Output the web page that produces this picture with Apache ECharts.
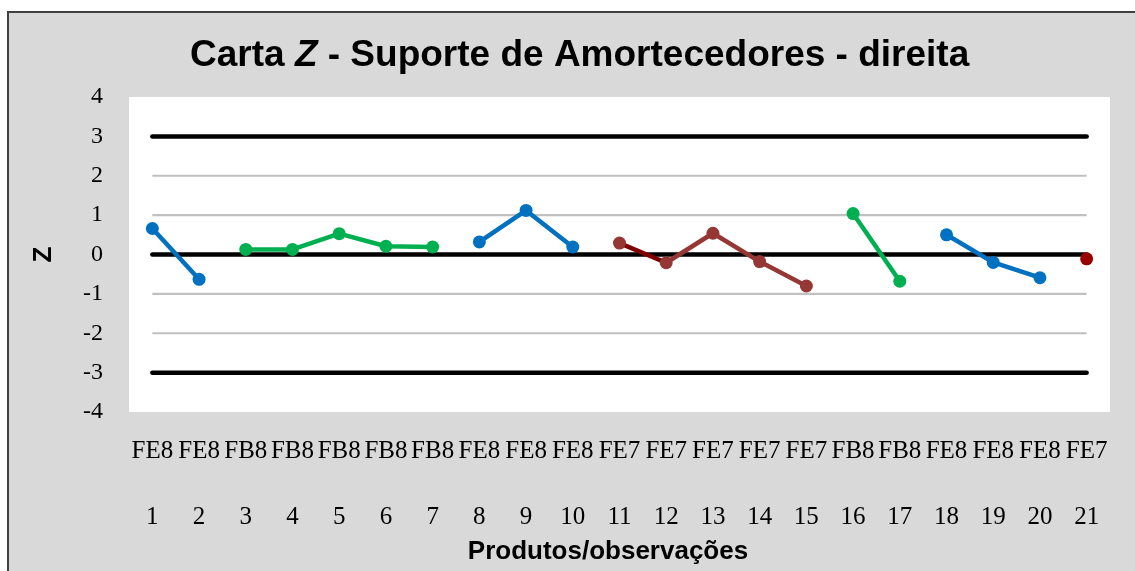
<!DOCTYPE html>
<html>
<head>
<meta charset="utf-8">
<script src="https://cdn.jsdelivr.net/npm/echarts@6/dist/echarts.min.js"></script>
<style>
  html, body { margin: 0; padding: 0; background: #ffffff; }
  #chart { width: 1135px; height: 571px; }
</style>
</head>
<body>
<div id="chart"></div>
<script>
// Product code of each observation and its observation number
const productCodes = ['FE8','FE8','FB8','FB8','FB8','FB8','FB8','FE8','FE8','FE8',
                      'FE7','FE7','FE7','FE7','FE7','FB8','FB8','FE8','FE8','FE8','FE7'];
const observations = [1,2,3,4,5,6,7,8,9,10,11,12,13,14,15,16,17,18,19,20,21];

// Standardised Z values per observation
const zValues = [0.66, -0.63, 0.13, 0.13, 0.53, 0.21, 0.19, 0.32, 1.12, 0.19,
                 0.29, -0.21, 0.54, -0.18, -0.80, 1.04, -0.68, 0.50, -0.20, -0.59, -0.11];

// Control limits (black) and guide levels (grey)
const controlLimits = [3, 0, -3];
const guideLevels = [2, 1, -1, -2];

// Y axis range
const yMin = -4, yMax = 4, yStep = 1;

// Consecutive runs of the same product, drawn as separate polylines (first/last observation, 1-based)
const runs = [
  { from: 1,  to: 2,  color: '#0070c0' },
  { from: 3,  to: 7,  color: '#00b050' },
  { from: 8,  to: 10, color: '#0070c0' },
  { from: 12, to: 15, color: '#953735' },
  { from: 16, to: 17, color: '#00b050' },
  { from: 18, to: 20, color: '#0070c0' },
  { from: 21, to: 21, color: '#990000' }
];

const categories = productCodes.map((c, i) => c + '\n\n' + observations[i]);
const lastIdx = categories.length - 1;

const series = [];

guideLevels.forEach(v => series.push({
  type: 'line', data: [[0, v], [lastIdx, v]], symbol: 'none', silent: true, z: 1,
  lineStyle: { color: '#c0c0c0', width: 2.2, cap: 'butt' }
}));

runs.forEach(r => {
  const data = zValues.map((v, i) => (i + 1 >= r.from && i + 1 <= r.to) ? v : null);
  series.push({
    type: 'line', data, symbol: 'circle', symbolSize: 13, showAllSymbol: true,
    connectNulls: false, z: 3,
    lineStyle: { color: r.color, width: 4.5 },
    itemStyle: { color: r.color }
  });
});

// Link between observations 11 and 12 (darker red), marker only on 11
series.push({
  type: 'line', z: 3, symbol: 'circle', symbolSize: 13, showAllSymbol: true,
  data: zValues.map((v, i) => {
    if (i === 10) return { value: v, itemStyle: { color: '#953735' } };
    if (i === 11) return { value: v, symbol: 'none' };
    return null;
  }),
  lineStyle: { color: '#7f0000', width: 4.5 },
  itemStyle: { color: '#953735' }
});

controlLimits.forEach(v => series.push({
  type: 'line', data: [[0, v], [lastIdx, v]], symbol: 'none', silent: true, z: 2,
  lineStyle: { color: '#000000', width: 4.5, cap: 'round' }
}));

const chart = echarts.init(document.getElementById('chart'), null, { renderer: 'canvas' });
chart.setOption({
  animation: false,
  backgroundColor: '#ffffff',
  title: {
    left: 185, top: 32,
    text: '{a|Carta }{z|Z}{a| - Suporte de Amortecedores - direita}',
    textStyle: {
      rich: {
        a: { fontFamily: 'Liberation Sans, Arial', fontWeight: 'bold', fontSize: 37, color: '#000' },
        z: { fontFamily: 'Liberation Sans, Arial', fontWeight: 'bold', fontStyle: 'italic', fontSize: 37, color: '#000' }
      }
    }
  },
  graphic: [{
    type: 'rect', z: -10, silent: true,
    shape: { x: 8, y: 12, width: 1200, height: 640 },
    style: { fill: '#d9d9d9', stroke: '#404040', lineWidth: 2 }
  }],
  grid: {
    left: 129, right: 25, top: 97, bottom: 159,
    show: true, backgroundColor: '#ffffff', borderWidth: 0
  },
  xAxis: {
    type: 'category', data: categories, boundaryGap: true,
    axisLine: { show: false }, axisTick: { show: false }, splitLine: { show: false },
    axisLabel: {
      interval: 0, margin: 23, color: '#000',
      fontFamily: 'Liberation Serif, Times New Roman', fontSize: 25, lineHeight: 33
    },
    name: 'Produtos/observações', nameLocation: 'middle', nameGap: 127,
    nameTextStyle: {
      fontFamily: 'Liberation Sans, Arial', fontWeight: 'bold', fontSize: 26, color: '#000',
      padding: [0, 23, 0, 0]
    }
  },
  yAxis: {
    type: 'value', min: yMin, max: yMax, interval: yStep,
    axisLine: { show: false }, axisTick: { show: false }, splitLine: { show: false },
    axisLabel: {
      margin: 26, color: '#000',
      fontFamily: 'Liberation Serif, Times New Roman', fontSize: 24
    },
    name: 'Z', nameLocation: 'middle', nameGap: 72, nameRotate: 90,
    nameTextStyle: { fontFamily: 'Liberation Sans, Arial', fontWeight: 'bold', fontSize: 26, color: '#000' }
  },
  series
});
</script>
</body>
</html>
